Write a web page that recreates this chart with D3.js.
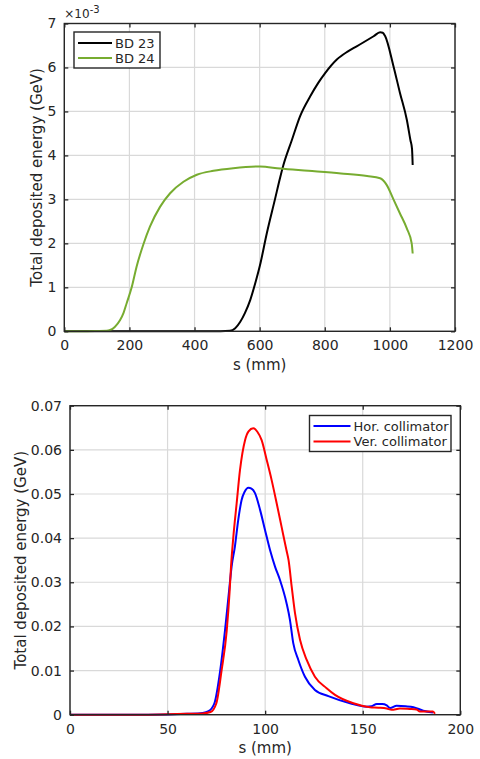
<!DOCTYPE html>
<html>
<head>
<meta charset="utf-8">
<script src="https://cdn.jsdelivr.net/npm/d3@7"></script>
<style>
  body { margin: 0; background: #fff; }
  text { font-family: "DejaVu Sans", sans-serif; fill: #262626; }
</style>
</head>
<body>
<div class="canvas"></div>
<script>
// top panel: s (mm) vs energy in units of 1e-3 GeV
const bd23S = [0, 480, 509, 525, 540, 555, 571, 586, 601, 622, 647, 663, 673, 699, 724, 755, 780, 800, 837, 870, 898, 950, 970, 978, 985, 1011, 1031, 1052, 1063, 1068, 1070];
const bd23E = [0, 0, 0.01, 0.07, 0.21, 0.42, 0.71, 1.08, 1.5, 2.23, 3.0, 3.5, 3.78, 4.35, 4.89, 5.34, 5.65, 5.86, 6.18, 6.36, 6.48, 6.71, 6.8, 6.79, 6.72, 6.03, 5.42, 4.81, 4.35, 4.15, 3.78];
const bd24S = [0, 50, 100, 130, 141, 155, 171, 182, 192, 207, 222, 243, 263, 294, 325, 366, 407, 458, 519, 601, 663, 750, 850, 930, 970, 990, 1011, 1031, 1052, 1067, 1070];
const bd24E = [0, 0, 0.005, 0.01, 0.03, 0.1, 0.25, 0.42, 0.65, 1.0, 1.47, 1.98, 2.38, 2.83, 3.14, 3.4, 3.56, 3.65, 3.71, 3.75, 3.7, 3.65, 3.59, 3.53, 3.48, 3.33, 3.0, 2.68, 2.34, 2.0, 1.77];
const topXTicks = [0, 200, 400, 600, 800, 1000, 1200];
const topYTicks = [0, 1, 2, 3, 4, 5, 6, 7];

// bottom panel: s (mm) vs energy (GeV)
const horS = [0, 40, 60, 68, 71, 74, 77, 79.4, 81.5, 82.8, 84.5, 86.2, 87.9, 89.5, 91.4, 93, 94.8, 97.4, 99.9, 102.5, 105.1, 107.6, 111, 112.7, 114.4, 117, 120.4, 125.5, 132.4, 143.5, 152, 154.5, 157.2, 160, 162.3, 164, 167.4, 172, 176, 181, 186];
const horE = [0, 0, 0.0002, 0.0004, 0.0008, 0.0026, 0.0101, 0.019, 0.028, 0.0335, 0.0381, 0.0441, 0.0486, 0.0505, 0.0514, 0.0512, 0.0502, 0.0464, 0.0419, 0.0373, 0.0335, 0.0305, 0.0252, 0.0215, 0.0162, 0.0124, 0.0086, 0.0056, 0.0042, 0.0026, 0.0018, 0.0019, 0.0024, 0.0024, 0.0021, 0.0015, 0.002, 0.0019, 0.0017, 0.0009, 0.0005];
const verS = [0, 40, 60, 68, 72, 75, 77.7, 80.3, 81.8, 82.5, 83.7, 85.4, 87.1, 89.7, 91.5, 93.9, 96, 98.2, 100.8, 103.3, 105.9, 108.4, 110.9, 112, 113.6, 115.3, 117.9, 121.3, 125.5, 131.5, 135.8, 145.2, 153.7, 158, 162.3, 164.8, 169.1, 174, 177.6, 179.3, 186, 187];
const verE = [0, 0, 0.0002, 0.0003, 0.0006, 0.0026, 0.0101, 0.019, 0.028, 0.0335, 0.0403, 0.0479, 0.0554, 0.0622, 0.0642, 0.0649, 0.0641, 0.0622, 0.0577, 0.0532, 0.0479, 0.0426, 0.0373, 0.035, 0.029, 0.023, 0.0169, 0.0124, 0.0086, 0.006, 0.0045, 0.0026, 0.0017, 0.0016, 0.0014, 0.0011, 0.0014, 0.0013, 0.0012, 0.0007, 0.0007, 0.0002];
const botXTicks = [0, 50, 100, 150, 200];
const botYTicks = [0, 0.01, 0.02, 0.03, 0.04, 0.05, 0.06, 0.07];

const svg = d3
  .select(".canvas")
  .append("svg")
  .attr("width", 480)
  .attr("height", 759);

const toPoints = (xs, ys) => xs.map((s, i) => ({ s: s, e: ys[i] }));

function drawPanel(cfg) {
  const w = cfg.right - cfg.left;
  const h = cfg.bottom - cfg.top;
  const g = svg.append("g").attr("transform", `translate(${cfg.left}, ${cfg.top})`);

  const x = d3.scaleLinear().domain(cfg.xDomain).range([0, w]);
  const y = d3.scaleLinear().domain(cfg.yDomain).range([h, 0]);

  // grid
  g.append("g")
    .selectAll("line")
    .data(cfg.xTicks)
    .join("line")
    .attr("x1", (d) => x(d))
    .attr("x2", (d) => x(d))
    .attr("y1", 0)
    .attr("y2", h)
    .attr("stroke", "#d9d9d9")
    .attr("stroke-width", 1.2);
  g.append("g")
    .selectAll("line")
    .data(cfg.yTicks)
    .join("line")
    .attr("x1", 0)
    .attr("x2", w)
    .attr("y1", (d) => y(d))
    .attr("y2", (d) => y(d))
    .attr("stroke", "#d9d9d9")
    .attr("stroke-width", 1.2);

  // series
  const line = d3
    .line()
    .x((d) => x(d.s))
    .y((d) => y(d.e))
    .curve(d3.curveMonotoneX);

  cfg.series.forEach((sr) => {
    g.append("path")
      .datum(sr.points)
      .attr("fill", "none")
      .attr("stroke", sr.color)
      .attr("stroke-width", cfg.lineWidth)
      .attr("stroke-linejoin", "round")
      .attr("d", line);
  });

  // axes with inward ticks on all four sides
  const xAxis = g
    .append("g")
    .attr("transform", `translate(0, ${h})`)
    .call(d3.axisBottom(x).tickValues(cfg.xTicks).tickSize(-4).tickPadding(9).tickFormat(cfg.xFormat));
  const yAxis = g
    .append("g")
    .call(d3.axisLeft(y).tickValues(cfg.yTicks).tickSize(-4).tickPadding(8).tickFormat(cfg.yFormat));
  const xTop = g.append("g").call(d3.axisTop(x).tickValues(cfg.xTicks).tickSize(-4).tickFormat(""));
  const yRight = g
    .append("g")
    .attr("transform", `translate(${w}, 0)`)
    .call(d3.axisRight(y).tickValues(cfg.yTicks).tickSize(-4).tickFormat(""));

  [xAxis, yAxis, xTop, yRight].forEach((a) => {
    a.select(".domain").remove();
    a.selectAll(".tick line").attr("stroke", "#262626").attr("stroke-width", 1.3);
    a.selectAll("text")
      .attr("fill", "#262626")
      .style("font-size", "14px")
      .style("font-family", "DejaVu Sans, sans-serif");
  });

  g.append("rect")
    .attr("width", w)
    .attr("height", h)
    .attr("fill", "none")
    .attr("stroke", "#262626")
    .attr("stroke-width", 1.4);

  // axis labels
  g.append("text")
    .attr("x", w / 2)
    .attr("y", h + cfg.xLabelGap)
    .attr("text-anchor", "middle")
    .style("font-size", "15px")
    .text("s (mm)");
  g.append("text")
    .attr("transform", `translate(${cfg.yLabelX - cfg.left}, ${h / 2}) rotate(-90)`)
    .attr("text-anchor", "middle")
    .style("font-size", "15px")
    .text("Total deposited energy (GeV)");

  // legend
  const lg = g.append("g").attr("transform", `translate(${cfg.legend.x - cfg.left}, ${cfg.legend.y - cfg.top})`);
  lg.append("rect")
    .attr("width", cfg.legend.w)
    .attr("height", cfg.legend.h)
    .attr("fill", "#fff")
    .attr("stroke", "#262626")
    .attr("stroke-width", 1.4);
  cfg.series.forEach((sr, i) => {
    const yy = cfg.legend.rowY[i];
    lg.append("line")
      .attr("x1", 4)
      .attr("x2", cfg.legend.lineLen + 4)
      .attr("y1", yy)
      .attr("y2", yy)
      .attr("stroke", sr.color)
      .attr("stroke-width", cfg.lineWidth);
    lg.append("text")
      .attr("x", cfg.legend.lineLen + 7)
      .attr("y", yy + 4.5)
      .style("font-size", "13px")
      .text(sr.name);
  });

  return g;
}

const topPanel = drawPanel({
  left: 64.3,
  right: 455,
  top: 23.5,
  bottom: 331.3,
  xDomain: [0, 1200],
  yDomain: [0, 7],
  xTicks: topXTicks,
  yTicks: topYTicks,
  xFormat: (d) => d,
  yFormat: (d) => d,
  lineWidth: 2,
  xLabelGap: 39,
  yLabelX: 42,
  series: [
    { name: "BD 23", color: "#000000", points: toPoints(bd23S, bd23E) },
    { name: "BD 24", color: "#77ac30", points: toPoints(bd24S, bd24E) },
  ],
  legend: { x: 74, y: 32, w: 86, h: 36, lineLen: 34, rowY: [11, 26] },
});

// exponent label
const expo = topPanel.append("text").attr("x", 0).attr("y", -6).style("font-size", "12px");
expo.append("tspan").text("\u00d710");
expo.append("tspan").attr("dy", -5).style("font-size", "10px").text("-3");

drawPanel({
  left: 70,
  right: 460.3,
  top: 405.7,
  bottom: 714.7,
  xDomain: [0, 200],
  yDomain: [0, 0.07],
  xTicks: botXTicks,
  yTicks: botYTicks,
  xFormat: (d) => d,
  yFormat: (d) => (d === 0 ? "0" : d3.format(".2f")(d)),
  lineWidth: 2,
  xLabelGap: 38,
  yLabelX: 26,
  series: [
    { name: "Hor. collimator", color: "#0000ff", points: toPoints(horS, horE) },
    { name: "Ver. collimator", color: "#ff0000", points: toPoints(verS, verE) },
  ],
  legend: { x: 309.5, y: 415.5, w: 141.5, h: 36, lineLen: 37, rowY: [10.5, 26] },
});
</script>
</body>
</html>
